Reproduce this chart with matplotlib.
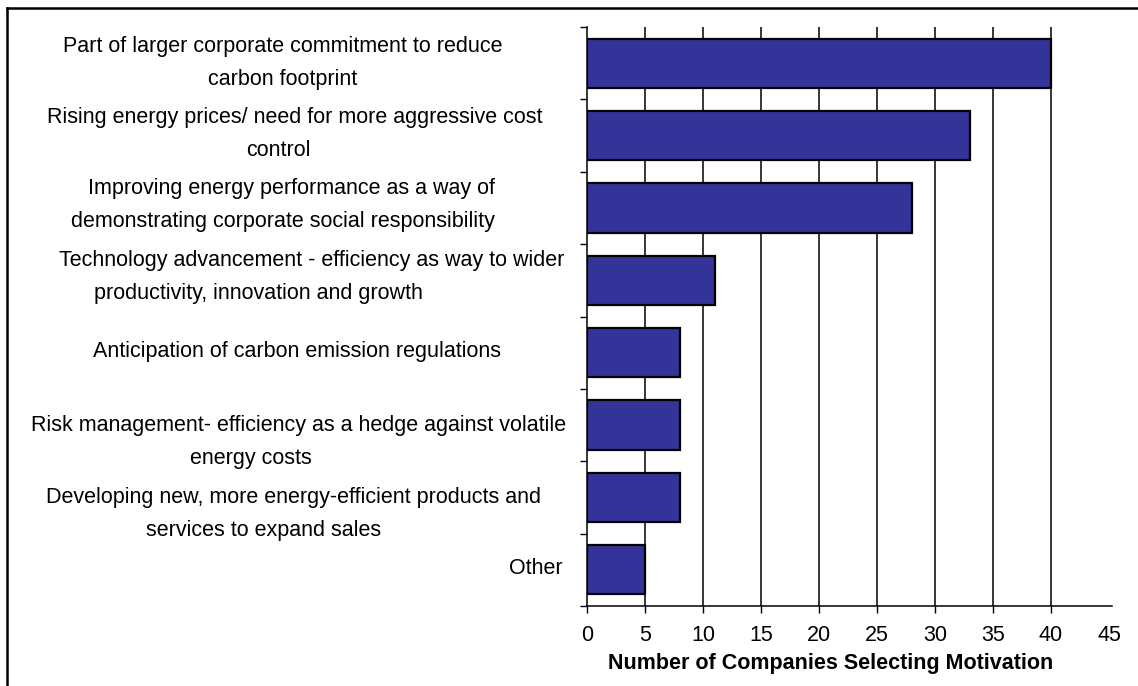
import matplotlib
matplotlib.use("Agg")
import matplotlib.pyplot as plt
from matplotlib.lines import Line2D

# motivations, top to bottom (each entry holds the wrapped lines of the label)
motivations = [
    ["Part of larger corporate commitment to reduce", "carbon footprint"],
    ["Rising energy prices/ need for more aggressive cost", "control"],
    ["Improving energy performance as a way of", "demonstrating corporate social responsibility"],
    ["Technology advancement - efficiency as way to wider", "productivity, innovation and growth"],
    ["Anticipation of carbon emission regulations"],
    ["Risk management- efficiency as a hedge against volatile", "energy costs"],
    ["Developing new, more energy-efficient products and", "services to expand sales"],
    ["Other"],
]
companies = [40, 33, 28, 11, 8, 8, 8, 5]
x_ticks = [0, 5, 10, 15, 20, 25, 30, 35, 40, 45]
x_title = "Number of Companies Selecting Motivation"

# layout of the wrapped labels: centre x of each line (image px) and
# vertical offset of each line from the bar centre (image px, down = +)
line_x = [(283, 283), (295, 278), (291, 283), (312, 258), (297,), (299, 251), (294, 264), (536,)]
line_dy = [(-17, 16), (-18, 15), (-19, 14), (-20, 13), (-1,), (0, 33), (0, 33), (-1,)]

W, H = 1138, 686
plt.rcParams['font.family'] = ['Liberation Sans', 'DejaVu Sans']
fig = plt.figure(figsize=(W / 100, H / 100), dpi=100)
ax = fig.add_axes([587 / W, (H - 606) / H, (1112 - 587) / W, (606 - 27) / H])

ypos = list(range(len(companies)))
ax.barh(ypos, companies, height=0.68, color='#333399', edgecolor='black',
        linewidth=1.6, zorder=3)

ax.set_ylim(len(companies) - 0.5, -0.5)
ax.set_xlim(0, 45.26)

# y axis: tick marks between categories, no labels
ax.set_yticks([i - 0.5 for i in range(len(companies) + 1)])
ax.set_yticklabels([])
ax.tick_params(axis='y', direction='out', length=5, width=1, color='black')

ax.set_xticks(x_ticks)
ax.set_xticklabels([str(t) for t in x_ticks], fontsize=15.5)
ax.tick_params(axis='x', direction='out', length=5, width=1, pad=9, color='black')
ax.grid(axis='x', color='black', linewidth=1.1, zorder=1)
ax.set_axisbelow(True)
last = ax.xaxis.get_major_ticks()[-1]
last.tick1line.set_visible(False)
last.gridline.set_visible(False)
ax.xaxis.get_major_ticks()[0].gridline.set_visible(False)

for side in ['top', 'right']:
    ax.spines[side].set_visible(False)
ax.spines['left'].set_linewidth(1.1)
ax.spines['bottom'].set_linewidth(1.1)

ax.set_xlabel(x_title, fontsize=15.5, fontweight='bold', va='center')
ax.xaxis.set_label_coords((831 - 587) / (1112 - 587), -(663 - 606) / (606 - 27))

# category labels, drawn line by line
for i, lines in enumerate(motivations):
    for txt, lx, dy in zip(lines, line_x[i], line_dy[i]):
        ax.annotate(txt, xy=(lx / W, i), xycoords=('figure fraction', 'data'),
                    xytext=(0, -dy), textcoords='offset pixels',
                    ha='center', va='center', fontsize=15.5, annotation_clip=False)

# partial frame round the chart (top and left edges)
fig.add_artist(Line2D([7 / W, 1], [1 - 8 / H, 1 - 8 / H], color='black', linewidth=1.8,
                      transform=fig.transFigure))
fig.add_artist(Line2D([7 / W, 7 / W], [0, 1 - 8 / H], color='black', linewidth=1.8,
                      transform=fig.transFigure))

fig.savefig('out.png', dpi=100)
